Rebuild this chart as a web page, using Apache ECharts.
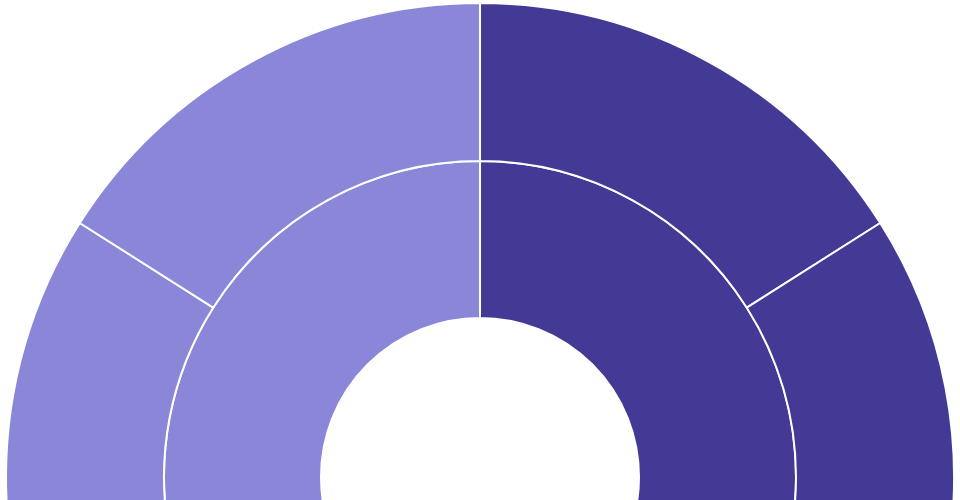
<!DOCTYPE html>
<html>
<head>
<meta charset="utf-8">
<style>
  html, body { margin: 0; padding: 0; background: #fff; }
  #chart { width: 960px; height: 500px; }
</style>
<script src="https://cdn.jsdelivr.net/npm/echarts@6/dist/echarts.min.js"></script>
</head>
<body>
<div id="chart"></div>
<script>
// inner ring
const parentNames = ["B", "A"];
const parentColors = ["#433a96", "#8a87d9"];
// outer ring, per parent (clockwise order from the parent's start)
const childNames = [["B1", "B2"], ["A1", "A2"]];
const childValues = [[32, 68], [68, 32]];

const buildData = () => {
    let data = [];
    for (let i = 0; i < parentNames.length; i++) {
        let children = [];
        for (let j = 0; j < childNames[i].length; j++) {
            children.push({
                name: childNames[i][j],
                value: childValues[i][j],
                itemStyle: { color: parentColors[i] }
            });
        }
        data.push({
            name: parentNames[i],
            itemStyle: { color: parentColors[i] },
            children
        });
    }
    return data;
};

const chart = echarts.init(document.getElementById("chart"));
chart.setOption({
    animation: false,
    series: [
        {
            type: "sunburst",
            center: [480, 477],
            radius: [159, 474],
            startAngle: 90,
            sort: null,
            nodeClick: false,
            data: buildData(),
            label: { show: false },
            itemStyle: { borderColor: "#ffffff", borderWidth: 2 },
            emphasis: { focus: "none" },
            levels: [
                {},
                { r0: 159, r: 316 },
                { r0: 316, r: 474 }
            ]
        }
    ]
});
</script>
</body>
</html>
